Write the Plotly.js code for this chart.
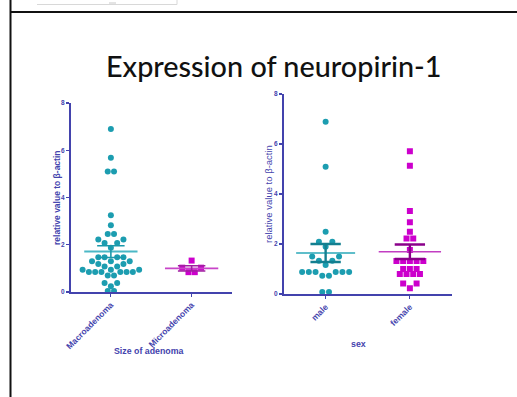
<!DOCTYPE html>
<html><head><meta charset="utf-8">
<script src="https://cdn.plot.ly/plotly-3.0.1.min.js"></script>
<style>html,body{margin:0;padding:0;background:#fff;}#chart{width:517px;height:397px;}</style>
</head><body><div id="chart"></div>
<script>
// ---- data ----
const sizeCategories = ["Macroadenoma", "Microadenoma"];
const macroValues = [6.9, 5.68, 5.1, 5.1, 3.25, 2.83, 2.46, 2.46, 2.22, 2.22, 2.07, 2.07, 1.87,
  1.47, 1.47, 1.47, 1.47, 1.3, 1.3, 1.3, 1.18, 1.18, 1.08, 1.08, 0.94, 0.94, 0.94,
  0.85, 0.85, 0.85, 0.85, 0.85, 0.85, 0.7, 0.7, 0.38, 0.38, 0.24, 0.04, 0.04];
const microValues = [1.33, 1.03, 1.03, 0.84, 0.84];
const sexCategories = ["male", "female"];
const maleValues = [6.89, 5.09, 2.49, 2.09, 2.09, 1.89, 1.5, 1.5, 1.33, 1.33, 1.16,
  0.88, 0.88, 0.88, 0.88, 0.88, 0.88, 0.73, 0.73, 0.08, 0.08];
const femaleValues = [5.71, 5.13, 3.32, 2.87, 2.49, 2.22, 2.22, 1.76, 1.32, 1.32, 1.32, 1.32, 1.32,
  1.0, 1.0, 1.0, 0.8, 0.8, 0.8, 0.8, 0.42, 0.42, 0.23];
// mean and SEM
const sizeMeans = [1.71, 1.0];
const sizeSEM = [0.25, 0.11];
const sexMeans = [1.64, 1.69];
const sexSEM = [0.36, 0.29];
const yTicks = [0, 2, 4, 6, 8];

// ---- styling ----
const W = 517, H = 397;
const TEAL = "#1c9db0", MAG = "#cc00cc", AX = "#4343ad";
const px = v => v / W, py = v => 1 - v / H;

// simple row-based beeswarm layout (pixel spacing -> category units)
function swarm(vals, center, pxPerX, pxPerY, d) {
  const idx = vals.map((v, i) => i).sort((a, b) => vals[a] - vals[b]);
  const rows = []; let cur = null;
  idx.forEach(i => {
    if (cur && vals[i] - cur.v0 <= 0.03) cur.items.push(i);
    else { cur = { v0: vals[i], items: [i] }; rows.push(cur); }
  });
  const placed = []; const xs = new Array(vals.length);
  rows.forEach(r => {
    const n = r.items.length;
    const base = r.items.map((i, j) => (j - (n - 1) / 2) * d);
    let chosen = null;
    for (let k = 0; k < 10 && !chosen; k++) {
      const e = k * d / 2;
      const offs = base.map(b => b === 0 ? 0 : b + Math.sign(b) * e);
      const ok = offs.every(o => placed.every(p => {
        const dx = o - p.x, dy = (r.v0 - p.y) * pxPerY;
        return Math.sqrt(dx * dx + dy * dy) >= d * 0.92;
      }));
      if (ok) chosen = offs;
    }
    if (!chosen) chosen = base;
    r.items.forEach((i, j) => { xs[i] = center + chosen[j] / pxPerX; placed.push({ x: chosen[j], y: r.v0 }); });
  });
  return xs;
}

function dots(vals, center, pxX, pxY, d, color, symbol, xa, ya) {
  return { type: "scatter", mode: "markers", x: swarm(vals, center, pxX, pxY, d), y: vals,
    xaxis: xa, yaxis: ya, cliponaxis: false, hoverinfo: "skip",
    marker: { color: color, size: 6, symbol: symbol, line: { width: 0 } } };
}
function meanLine(c, m, half, color, w, xa, ya) {
  return { type: "scatter", mode: "lines", x: [c - half, c + half], y: [m, m], xaxis: xa, yaxis: ya,
    line: { color: color, width: w }, hoverinfo: "skip", cliponaxis: false };
}
function semBars(c, m, s, half, color, w, xa, ya) {
  return { type: "scatter", mode: "lines",
    x: [c - half, c + half, null, c - half, c + half, null, c, c],
    y: [m + s, m + s, null, m - s, m - s, null, m - s, m + s], xaxis: xa, yaxis: ya,
    line: { color: color, width: w }, hoverinfo: "skip", cliponaxis: false };
}

const traces = [
  dots(macroValues, 0, 81, 23.6, 6.3, TEAL, "circle", "x", "y"),
  dots(microValues, 1, 81, 23.6, 6.3, MAG, "square", "x", "y"),
  meanLine(0, sizeMeans[0], 0.33, "#4bb8c6", 2, "x", "y"),
  semBars(0, sizeMeans[0], sizeSEM[0], 0.17, "#1a98aa", 1.6, "x", "y"),
  meanLine(1, sizeMeans[1], 0.33, "#c844c8", 1.6, "x", "y"),
  semBars(1, sizeMeans[1], sizeSEM[1], 0.17, "#a020a0", 1.6, "x", "y"),
  dots(maleValues, 0, 84, 25, 6.7, TEAL, "circle", "x2", "y2"),
  dots(femaleValues, 1, 84, 25, 6.7, MAG, "square", "x2", "y2"),
  meanLine(0, sexMeans[0], 0.35, "#2aa8b8", 1.4, "x2", "y2"),
  semBars(0, sexMeans[0], sexSEM[0], 0.18, "#137f90", 2.4, "x2", "y2"),
  meanLine(1, sexMeans[1], 0.37, "#c23ec2", 1.4, "x2", "y2"),
  semBars(1, sexMeans[1], sexSEM[1], 0.18, "#8a008a", 2.4, "x2", "y2")
];

function xAxis(domain, cats, bold, anchor) {
  return { domain: domain, range: [-0.5, 1.5], anchor: anchor, showline: true, linecolor: AX, linewidth: 1.6,
    showgrid: false, zeroline: false, ticks: "outside", ticklen: 3, tickwidth: 1.2, tickcolor: AX,
    tickvals: [0, 1], ticktext: cats, tickangle: -45,
    tickfont: { family: "Liberation Sans, Arial, sans-serif", size: 8.5, color: AX, weight: "bold" },
    fixedrange: true };
}
function yAxis(domain, anchor) {
  return { domain: domain, range: [0, 8], anchor: anchor, showline: true, linecolor: AX, linewidth: 1.6,
    showgrid: false, zeroline: false, ticks: "outside", ticklen: 3, tickwidth: 1.2, tickcolor: AX,
    tickvals: yTicks, ticktext: yTicks.map(String),
    tickfont: { family: "Liberation Sans, Arial, sans-serif", size: 6.5, color: AX, weight: "bold" },
    fixedrange: true };
}

const layout = {
  width: W, height: H, margin: { l: 0, r: 0, t: 0, b: 0 }, showlegend: false,
  paper_bgcolor: "#fff", plot_bgcolor: "rgba(0,0,0,0)",
  xaxis: xAxis([px(70.5), px(232)], sizeCategories, true, "y"),
  yaxis: yAxis([1 - 292 / H, 1 - 103 / H], "x"),
  xaxis2: xAxis([px(283.5), px(452)], sexCategories, false, "y2"),
  yaxis2: yAxis([1 - 294 / H, 1 - 94 / H], "x2"),
  shapes: [
    { type: "line", xref: "paper", yref: "paper", x0: px(10), x1: 1, y0: py(12), y1: py(12), line: { color: "#111", width: 2 } },
    { type: "line", xref: "paper", yref: "paper", x0: px(10.5), x1: px(10.5), y0: 0, y1: 1, line: { color: "#111", width: 2 } },
    { type: "line", xref: "paper", yref: "paper", x0: px(37), x1: px(177), y0: py(4.5), y1: py(4.5), line: { color: "#d8d8d8", width: 1 } },
    { type: "line", xref: "paper", yref: "paper", x0: px(177), x1: px(177), y0: py(0), y1: py(4.5), line: { color: "#d8d8d8", width: 1 } },
    { type: "line", xref: "paper", yref: "paper", x0: px(109), x1: px(116), y0: py(3), y1: py(3), line: { color: "#c8c8c8", width: 1 } }
  ],
  annotations: [
    { text: "Expression of neuropirin-1", xref: "paper", yref: "paper", x: px(273), y: py(66), showarrow: false,
      xanchor: "center", yanchor: "middle", font: { family: "Lato, 'Open Sans', sans-serif", size: 28.8, color: "#111", weight: 500 } },
    { text: "relative value to β-actin", xref: "paper", yref: "paper", x: px(57), y: py(198), textangle: -90,
      showarrow: false, xanchor: "center", yanchor: "middle",
      font: { family: "Liberation Sans, Arial, sans-serif", size: 8.5, color: AX, weight: "bold" } },
    { text: "relative value to β-actin", xref: "paper", yref: "paper", x: px(268), y: py(194), textangle: -90,
      showarrow: false, xanchor: "center", yanchor: "middle",
      font: { family: "Liberation Sans, Arial, sans-serif", size: 9.5, color: AX } },
    { text: "Size of adenoma", xref: "paper", yref: "paper", x: px(149), y: py(351), showarrow: false,
      xanchor: "center", yanchor: "middle", font: { family: "Liberation Sans, Arial, sans-serif", size: 8.8, color: AX, weight: "bold" } },
    { text: "sex", xref: "paper", yref: "paper", x: px(358), y: py(344), showarrow: false,
      xanchor: "center", yanchor: "middle", font: { family: "Liberation Sans, Arial, sans-serif", size: 8.8, color: AX, weight: "bold" } }
  ]
};

Plotly.newPlot("chart", traces, layout, { staticPlot: true, displayModeBar: false });
</script></body></html>
